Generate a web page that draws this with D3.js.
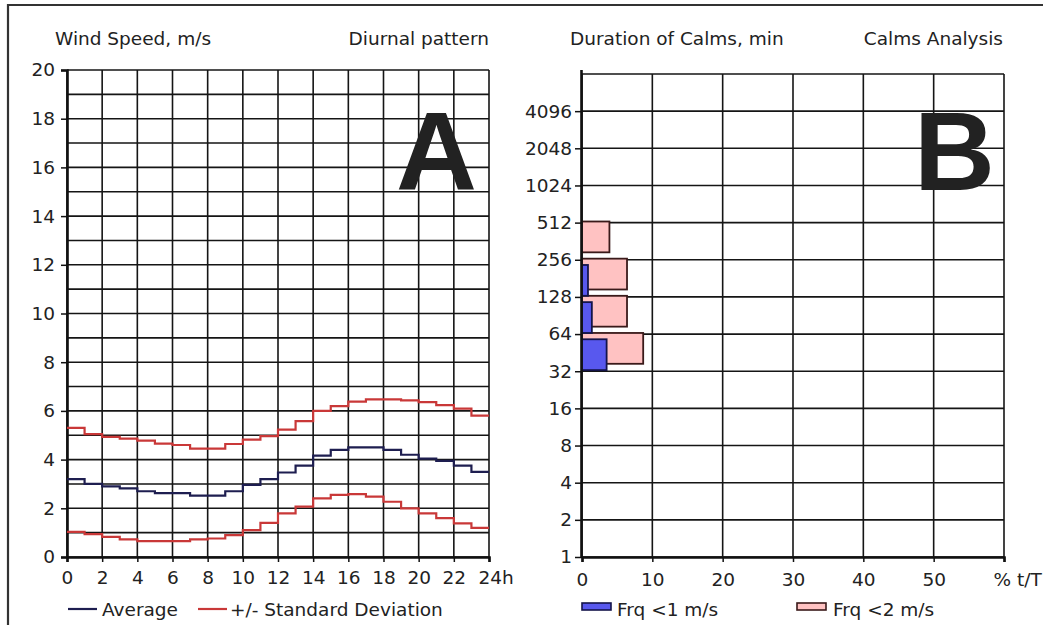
<!DOCTYPE html>
<html><head><meta charset="utf-8">
<script src="https://cdn.jsdelivr.net/npm/d3@7"></script>
<style>
body{margin:0;background:#fff;}
svg text{font-family:"DejaVu Sans",Verdana,sans-serif;fill:#222;}
</style></head>
<body><svg id="c" width="1043" height="625"></svg>
<script>
// ---------- data ----------
const hours = d3.range(0, 24);
const avgSpeed = [3.2,3.0,2.9,2.82,2.7,2.62,2.62,2.52,2.52,2.7,2.96,3.2,3.47,3.75,4.16,4.4,4.5,4.5,4.4,4.2,4.04,3.95,3.75,3.5];
const upperSD  = [5.3,5.05,4.93,4.86,4.78,4.66,4.6,4.45,4.45,4.64,4.82,4.96,5.23,5.58,6.0,6.2,6.38,6.47,6.47,6.43,6.36,6.24,6.09,5.81];
const lowerSD  = [1.03,0.94,0.83,0.72,0.65,0.65,0.65,0.72,0.76,0.9,1.1,1.4,1.79,2.07,2.41,2.55,2.58,2.48,2.27,2.0,1.79,1.6,1.38,1.2];
const hourTicks = [0,2,4,6,8,10,12,14,16,18,20,22,24];
const speedTicks = [0,2,4,6,8,10,12,14,16,18,20];

const calmBinLow = [32, 64, 128, 256];
const frqBelow1 = [3.5, 1.4, 0.85, 0];
const frqBelow2 = [8.7, 6.4, 6.4, 3.9];
const durationTicks = [1,2,4,8,16,32,64,128,256,512,1024,2048,4096];
const pctTicks = [0,10,20,30,40,50];

// ---------- setup ----------
const svg = d3.select("#c");
const FS = 18.5;
const GRID = "#151515";
const GW = 1.6;

// frame
svg.append("path").attr("d","M8,625 L8,5 L1043,5").attr("fill","none").attr("stroke","#333").attr("stroke-width",2.2);

// ================= Chart A =================
const xA = d3.scaleLinear().domain([0,24]).range([67,489]);
const yA = d3.scaleLinear().domain([0,20]).range([557,70]);
const gA = svg.append("g");

// grid
gA.selectAll(".hg").data(d3.range(0,21)).join("line")
  .attr("x1",xA(0)).attr("x2",xA(24)).attr("y1",d=>yA(d)).attr("y2",d=>yA(d))
  .attr("stroke",GRID).attr("stroke-width",GW);
gA.selectAll(".vg").data(hourTicks).join("line")
  .attr("x1",d=>xA(d)).attr("x2",d=>xA(d)).attr("y1",yA(0)).attr("y2",yA(20))
  .attr("stroke",GRID).attr("stroke-width",GW);

// axes
const axAy = gA.append("g").attr("transform",`translate(${xA(0)},0)`)
  .call(d3.axisLeft(yA).tickValues(speedTicks).tickSize(6).tickPadding(6));
const axAx = gA.append("g").attr("transform",`translate(0,${yA(0)})`)
  .call(d3.axisBottom(xA).tickValues(hourTicks).tickSize(5).tickPadding(9)
        .tickFormat(d=> d===24 ? "24h" : d));
[axAy, axAx].forEach(a=>{
  a.select(".domain").attr("stroke","#111").attr("stroke-width",2.6);
  a.selectAll(".tick line").attr("stroke","#111").attr("stroke-width",1.5);
  a.selectAll("text").style("font-size",FS+"px").attr("fill","#222");
});
axAx.selectAll(".tick text").filter(d=>d===24).attr("text-anchor","start").attr("dx","-11");

// lines
function stepData(vals){ const p = hours.map((h,i)=>[h,vals[i]]); p.push([24, vals[vals.length-1]]); return p; }
const lineA = d3.line().x(d=>xA(d[0])).y(d=>yA(d[1])).curve(d3.curveStepAfter);
[[upperSD,"#c93838"],[lowerSD,"#c93838"],[avgSpeed,"#1e1e50"]].forEach(([v,c])=>{
  gA.append("path").datum(stepData(v)).attr("d",lineA)
    .attr("fill","none").attr("stroke",c).attr("stroke-width",2.2);
});

// titles
gA.append("text").attr("x",55).attr("y",45).style("font-size",FS+"px").text("Wind Speed, m/s");
gA.append("text").attr("x",489).attr("y",45).attr("text-anchor","end").style("font-size",FS+"px").text("Diurnal pattern");
gA.append("text").attr("x",396).attr("y",190).style("font-size","112px").style("font-weight","bold")
  .style("font-family","'Liberation Sans',Arial,sans-serif").attr("fill","#000").text("A");

// legend
gA.append("line").attr("x1",68).attr("x2",97).attr("y1",609).attr("y2",609).attr("stroke","#1e1e50").attr("stroke-width",2.2);
gA.append("text").attr("x",102).attr("y",616).style("font-size",FS+"px").text("Average");
gA.append("line").attr("x1",198).attr("x2",227).attr("y1",609).attr("y2",609).attr("stroke","#c93838").attr("stroke-width",2.2);
gA.append("text").attr("x",230).attr("y",616).style("font-size",FS+"px").text("+/- Standard Deviation");

// ================= Chart B =================
const xB = d3.scaleLinear().domain([0,60]).range([582,1004]);
const yB = d3.scaleLog().base(2).domain([1,8192]).range([557,74]);
const gB = svg.append("g");

const hLines = durationTicks.concat([8192]);
gB.selectAll(".hg").data(hLines).join("line")
  .attr("x1",xB(0)).attr("x2",xB(60)).attr("y1",d=>yB(d)).attr("y2",d=>yB(d))
  .attr("stroke",GRID).attr("stroke-width",GW);
gB.selectAll(".vg").data(pctTicks.concat([60])).join("line")
  .attr("x1",d=>xB(d)).attr("x2",d=>xB(d)).attr("y1",yB(1)).attr("y2",yB(8192))
  .attr("stroke",GRID).attr("stroke-width",GW);

// bars
const bars = calmBinLow.map((lo,i)=>({lo, hi:lo*2, f1:frqBelow1[i], f2:frqBelow2[i]}));
function band(d,a,b){ const t=yB(d.hi), h=yB(d.lo)-yB(d.hi); return [t+a*h, t+b*h]; }
gB.selectAll(".b2").data(bars.filter(d=>d.f2>0)).join("rect")
  .attr("x",xB(0)).attr("width",d=>xB(d.f2)-xB(0))
  .attr("y",d=>band(d,-0.03,0.8)[0]).attr("height",d=>band(d,-0.03,0.8)[1]-band(d,-0.03,0.8)[0])
  .attr("fill","#ffc2c2").attr("stroke","#3a1a1a").attr("stroke-width",1.8);
gB.selectAll(".b1").data(bars.filter(d=>d.f1>0)).join("rect")
  .attr("x",xB(0)).attr("width",d=>xB(d.f1)-xB(0))
  .attr("y",d=>band(d,0.14,0.97)[0]).attr("height",d=>band(d,0.14,0.97)[1]-band(d,0.14,0.97)[0])
  .attr("fill","#5858ee").attr("stroke","#14144a").attr("stroke-width",1.8);

// axes
const axBy = gB.append("g").attr("transform",`translate(${xB(0)},0)`)
  .call(d3.axisLeft(yB).tickValues(durationTicks).tickFormat(d3.format("d")).tickSize(7).tickPadding(3));
axBy.select(".domain").attr("d",`M-0.5,${yB(1)}V70`);
const axBx = gB.append("g").attr("transform",`translate(0,${yB(1)})`)
  .call(d3.axisBottom(xB).tickValues(pctTicks.concat([60])).tickSize(5).tickPadding(11)
        .tickFormat(d=> d===60 ? "% t/T" : d));
[axBy, axBx].forEach(a=>{
  a.select(".domain").attr("stroke","#111").attr("stroke-width",2.6);
  a.selectAll(".tick line").attr("stroke","#111").attr("stroke-width",1.5);
  a.selectAll("text").style("font-size",FS+"px").attr("fill","#222");
});
axBx.selectAll(".tick text").filter(d=>d===60).attr("text-anchor","start").attr("dx","-11");

gB.append("text").attr("x",570).attr("y",45).style("font-size",FS+"px").text("Duration of Calms, min");
gB.append("text").attr("x",1003).attr("y",45).attr("text-anchor","end").style("font-size",FS+"px").text("Calms Analysis");
gB.append("text").attr("x",914).attr("y",190).style("font-size","112px").style("font-weight","bold")
  .style("font-family","'Liberation Sans',Arial,sans-serif").attr("fill","#000").text("B");

// legend
gB.append("rect").attr("x",582).attr("y",603).attr("width",29).attr("height",7).attr("fill","#5858ee").attr("stroke","#14144a").attr("stroke-width",1.6);
gB.append("text").attr("x",617).attr("y",616).style("font-size",FS+"px").text("Frq <1 m/s");
gB.append("rect").attr("x",797).attr("y",603).attr("width",29).attr("height",7).attr("fill","#ffc2c2").attr("stroke","#3a1a1a").attr("stroke-width",1.6);
gB.append("text").attr("x",833).attr("y",616).style("font-size",FS+"px").text("Frq <2 m/s");
</script></body></html>
